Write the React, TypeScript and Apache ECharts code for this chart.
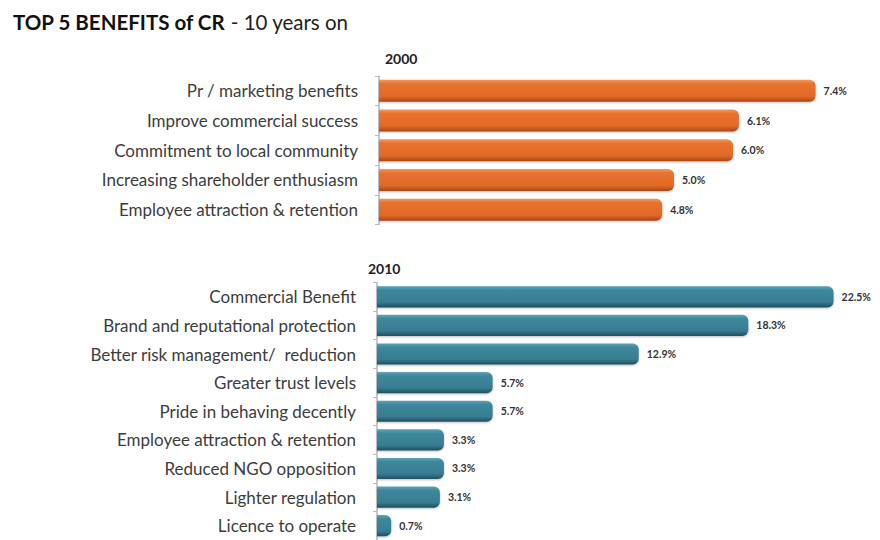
import React, { useEffect, useRef } from "react";
import * as echarts from "echarts";

const cats2000 = [
  "Pr / marketing benefits",
  "Improve commercial success",
  "Commitment to local community",
  "Increasing shareholder enthusiasm",
  "Employee attraction & retention",
];
const vals2000 = [7.4, 6.1, 6.0, 5.0, 4.8];

const cats2010 = [
  "Commercial Benefit",
  "Brand and reputational protection",
  "Better risk management/  reduction",
  "Greater trust levels",
  "Pride in behaving decently",
  "Employee attraction & retention",
  "Reduced NGO opposition",
  "Lighter regulation",
  "Licence to operate",
];
const vals2010 = [22.5, 18.3, 12.9, 5.7, 5.7, 3.3, 3.3, 3.1, 0.7];

const FONT = "Lato, 'Open Sans', sans-serif";

function barGradient(light: string, main: string, mid: string, dark: string) {
  return new echarts.graphic.LinearGradient(0, 0, 0, 1, [
    { offset: 0, color: light },
    { offset: 0.18, color: main },
    { offset: 0.75, color: mid },
    { offset: 1, color: dark },
  ]);
}

export default function App() {
  const ref = useRef<HTMLDivElement>(null);
  useEffect(() => {
    if (!ref.current) return;
    const chart = echarts.init(ref.current, undefined, { renderer: "svg" });
    const yAxisCommon = {
      type: "category" as const,
      inverse: true,
      offset: 5,
      axisLine: { show: true, lineStyle: { color: "#b9b9c6", width: 1.5 } },
      axisTick: { show: true, length: 4, inside: false, lineStyle: { color: "#b9b9c6" } },
      axisLabel: {
        color: "#3d3d3d",
        fontSize: 17,
        fontFamily: FONT,
        margin: 16,
      },
    };
    const xAxisCommon = {
      type: "value" as const,
      min: 0,
      show: false,
      splitLine: { show: false },
    };
    const labelCommon = {
      show: true,
      position: "right" as const,
      distance: 8,
      color: "#333",
      fontSize: 10.5,
      fontWeight: "bold" as const,
      fontFamily: FONT,
      formatter: (p: any) => p.value.toFixed(1) + "%",
    };
    chart.setOption({
      animation: false,
      backgroundColor: "#ffffff",
      title: [
        {
          text: "{b|TOP 5 BENEFITS of CR}{r| - 10 years on}",
          left: 13,
          top: 11,
          padding: 0,
          textStyle: {
            rich: {
              b: { fontSize: 20.5, fontWeight: "bold", color: "#111", fontFamily: FONT },
              r: { fontSize: 20.5, fontWeight: "normal", color: "#222", fontFamily: FONT },
            },
          },
        },
        {
          text: "2000",
          left: 385,
          top: 51,
          padding: 0,
          textStyle: { fontSize: 14, fontWeight: "bold", color: "#222", fontFamily: FONT },
        },
        {
          text: "2010",
          left: 368,
          top: 261,
          padding: 0,
          textStyle: { fontSize: 14, fontWeight: "bold", color: "#222", fontFamily: FONT },
        },
      ],
      grid: [
        { left: 379, top: 76, width: 472, height: 148.5 },
        { left: 377, top: 282.5, width: 487, height: 260 },
      ],
      xAxis: [
        { ...xAxisCommon, gridIndex: 0, max: 8 },
        { ...xAxisCommon, gridIndex: 1, max: 24 },
      ],
      yAxis: [
        { ...yAxisCommon, gridIndex: 0, data: cats2000 },
        { ...yAxisCommon, gridIndex: 1, data: cats2010 },
      ],
      series: [
        {
          type: "bar",
          xAxisIndex: 0,
          yAxisIndex: 0,
          data: vals2000,
          barCategoryGap: "26%",
          itemStyle: {
            color: barGradient("#f39a62", "#e8722f", "#e26a27", "#a84616"),
            borderRadius: [0, 6, 6, 0],
            shadowColor: "rgba(0,0,0,0.25)",
            shadowBlur: 2,
            shadowOffsetY: 1,
          },
          label: labelCommon,
        },
        {
          type: "bar",
          xAxisIndex: 1,
          yAxisIndex: 1,
          data: vals2010,
          barCategoryGap: "26%",
          itemStyle: {
            color: barGradient("#62a3b6", "#3e889c", "#377d91", "#1f4f5d"),
            borderRadius: [0, 6, 6, 0],
            shadowColor: "rgba(0,0,0,0.25)",
            shadowBlur: 2,
            shadowOffsetY: 1,
          },
          label: labelCommon,
        },
      ],
    });
    return () => chart.dispose();
  }, []);
  return (
    <div
      ref={ref}
      style={{ position: "fixed", left: 0, top: 0, width: 880, height: 540 }}
    />
  );
}
